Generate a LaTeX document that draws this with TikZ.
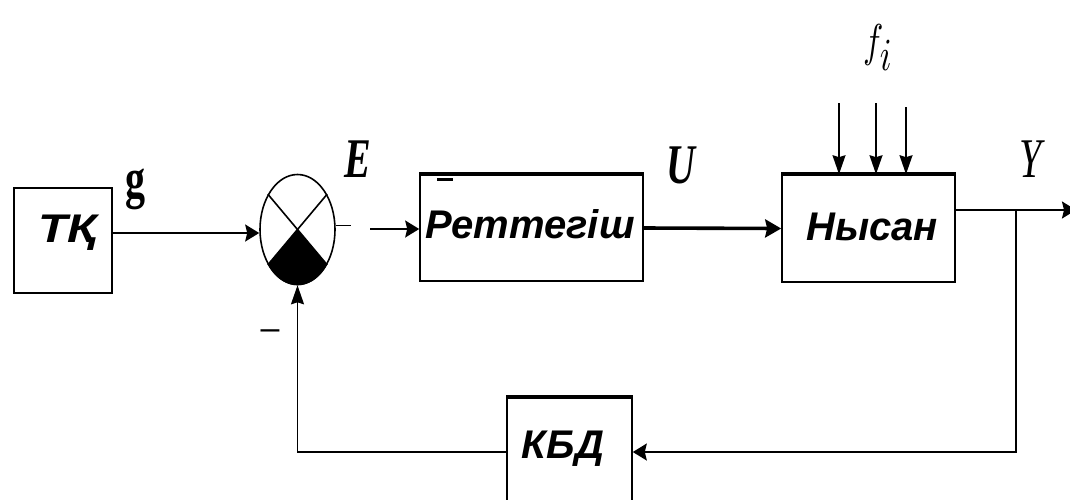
\documentclass[tikz,border=0pt]{standalone}
\usepackage{fontspec}
\newfontfamily\lsans{Liberation Sans}
\newfontfamily\lserif{Liberation Serif}
\usetikzlibrary{shapes.geometric,arrows.meta,calc}
\begin{document}
\begin{tikzpicture}[x=1pt,y=-1pt,
  ln/.style={line width=1.6pt},
  harr/.style={ln, -{Stealth[length=14pt,width=17pt,inset=2pt]}},
  varr/.style={ln, -{Stealth[length=19pt,width=13pt,inset=2pt]}},
  thickarr/.style={line width=3.6pt, -{Stealth[length=16pt,width=18pt,inset=2pt]}},
  blk/.style={draw, line width=1.6pt, rectangle, inner sep=0pt},
  topline/.style={line width=4.5pt},
  blabel/.style={font=\lsans\bfseries\itshape\fontsize{40}{42}\selectfont, inner sep=0pt, anchor=base},
  slabel/.style={font=\lserif\bfseries\itshape\fontsize{40}{42}\selectfont, inner sep=0pt, anchor=base},
]
\useasboundingbox[fill=white] (0,0) rectangle (1070,499);

% blocks
\node[blk, minimum width=98pt, minimum height=105pt] (tk) at (63,240.5) {};
\node[draw, ellipse, ln, minimum width=75pt, minimum height=110pt, inner sep=0pt] (sum) at (297.5,229.5) {};
\node[blk, minimum width=223pt, minimum height=106pt] (reg) at (531.5,228) {};
\node[blk, minimum width=173pt, minimum height=107pt] (obj) at (868.5,228.5) {};
\node[blk, minimum width=125pt, minimum height=108pt] (kbd) at (569.5,452) {};

% thick top lines
\draw[topline] (reg.north west) -- (reg.north east);
\draw[topline] (obj.north west) -- (obj.north east);
\draw[topline] (kbd.north west) -- (kbd.north east);
\draw[line width=2.5pt] (437,179.5) -- (453,179.5);

% comparator interior
\fill (sum.center) \foreach \a in {230,234,...,310} { -- (sum.\a) } -- cycle;
\draw[ln] (sum.130) -- (sum.310);
\draw[ln] (sum.50) -- (sum.230);
\draw[ln] ([yshift=4pt]sum.east) -- ++(15,0);

% texts
\node[blabel] (tkt) at (67.5,242) {\scalebox{1.2}[1]{ТҚ}};
\node[blabel] (regt) at (530,238) {Реттегіш};
\node[blabel] (objt) at (872,240) {Нысан};
\node[blabel] (kbdt) at (563,458) {КБД};
\node[slabel] (gl) at (135,197) {\scalebox{1}[1.4]{\upshape g}};
\node[slabel] (el) at (358,177) {\scalebox{1}[1.4]{E}};
\node[slabel] (ul) at (681,183) {\scalebox{1}[1.4]{U}};
\node[slabel, font=\lserif\itshape\fontsize{40}{42}\selectfont] (yl) at (1031,177) {\scalebox{1}[1.4]{Y}};
\node[anchor=base west, inner sep=0pt] (fl) at (863,56) {\scalebox{3.4}[4.6]{$f_{\textstyle i}$}};
\node[inner sep=0pt, anchor=base, font=\lsans\fontsize{34}{36}\selectfont] (minus) at (270,339) {–};

% connectors
\coordinate (estart) at (370,229);
\coordinate (d1) at (839,103);
\coordinate (d2) at (876,103);
\coordinate (d3) at (906,107);
\coordinate (yout) at (1076,210);
\coordinate (br) at (1016,210);

\draw[harr] ([yshift=7.5pt]tk.east) -- ([yshift=-3.5pt]sum.west);
\draw[harr] (estart) -- (estart -| reg.west);
\draw[thickarr] (reg.east) -- (obj.west);
\draw[varr] (d1) -- (d1 |- obj.north);
\draw[varr] (d2) -- (d2 |- obj.north);
\draw[varr] (d3) -- (d3 |- obj.north);
\draw[harr] ([yshift=18.5pt]obj.east) -- (yout);
\draw[harr] (br) |- (kbd.east);
\draw[varr] (kbd.west) -| (sum.south);
\end{tikzpicture}
\end{document}
